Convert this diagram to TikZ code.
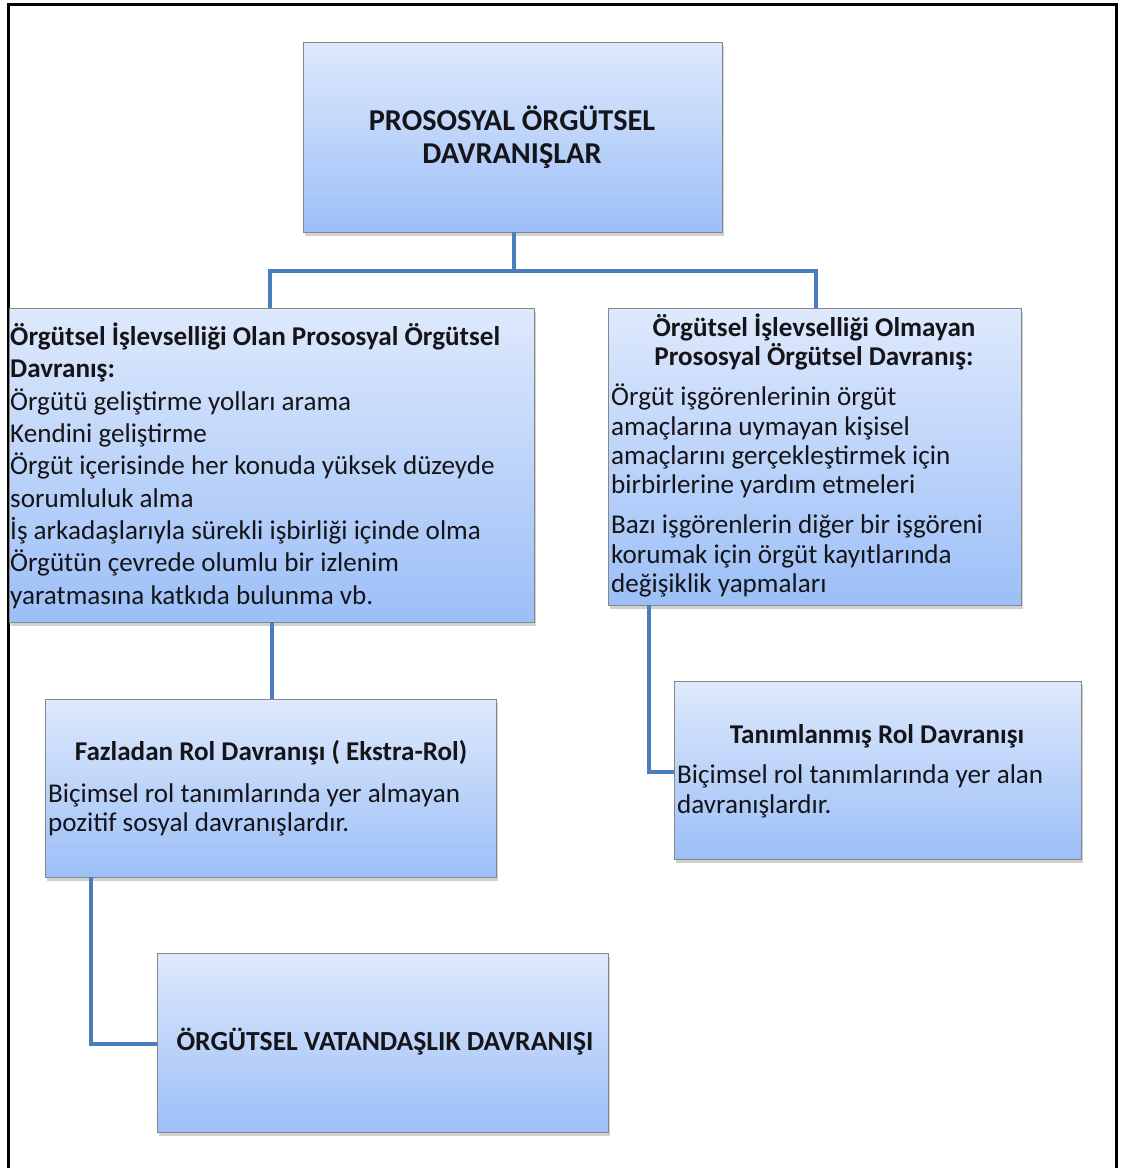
\documentclass[tikz,border=0pt]{standalone}
\usepackage{fontspec}
\setmainfont{Carlito}
\usetikzlibrary{shadows}
\definecolor{boxtop}{RGB}{222,233,252}
\definecolor{boxbot}{RGB}{156,191,247}
\definecolor{connblue}{RGB}{74,126,187}
\definecolor{boxline}{RGB}{135,135,135}
\definecolor{txtcol}{RGB}{20,20,25}
\tikzset{
  box/.style={draw=boxline, line width=0.7pt, top color=boxtop, bottom color=boxbot,
    inner sep=0pt, outer sep=0pt, anchor=north west,
    drop shadow={shadow xshift=1.5pt, shadow yshift=-4pt, fill=gray!45, opacity=0.8}},
  connline/.style={draw=connblue, line width=4.5pt},
  lt/.style={inner sep=0pt, anchor=base west, text=txtcol},
  ct/.style={inner sep=0pt, anchor=base, text=txtcol},
  fbig/.style={font=\fontsize{27.1}{32}\selectfont},
  fbigb/.style={font=\bfseries\fontsize{27.1}{32}\selectfont},
  fmid/.style={font=\fontsize{27.1}{29}\selectfont},
  fmidb/.style={font=\bfseries\fontsize{27.1}{29}\selectfont},
  ftitle/.style={font=\bfseries\fontsize{30.3}{33}\selectfont},
  fovd/.style={font=\bfseries\fontsize{27.6}{30}\selectfont},
}
\begin{document}
\begin{tikzpicture}[x=1pt,y=-1pt]
\useasboundingbox (0,0) rectangle (1128,1168);
% outer frame
\draw[line width=3pt, line cap=rect] (8.5,1168) -- (8.5,4.5) -- (1116.5,4.5) -- (1116.5,1168);

% boxes
\node[box, minimum width=419pt, minimum height=190pt] (top) at (303,42) {};
\node[box, minimum width=525pt, minimum height=314pt] (left) at (9,308) {};
\node[box, minimum width=413pt, minimum height=297pt] (right) at (608,308) {};
\node[box, minimum width=451pt, minimum height=178pt] (extra) at (45,699) {};
\node[box, minimum width=407pt, minimum height=178pt] (defined) at (674,681) {};
\node[box, minimum width=451pt, minimum height=179pt] (ovd) at (157,953) {};

% connectors
\coordinate (jt) at (514,271);
\draw[connline] (top.south -| jt) -- (jt);
\draw[connline] (left.north -| 270,0) |- (jt) -| (right.north -| 816,0);
\draw[connline] (left.south -| 272,0) -- (extra.north -| 272,0);
\draw[connline] (extra.south -| 91,0) |- (ovd.west |- 0,1044);
\draw[connline] (right.south -| 649,0) |- (defined.west |- 0,772);

% top box text
\node[ct, ftitle] (t1) at (512,130) {PROSOSYAL ÖRGÜTSEL};
\node[ct, ftitle] (t2) at (512,163) {DAVRANIŞLAR};

% left box text
\node[lt, fbigb] (lh1) at (10,345) {Örgütsel İşlevselliği Olan Prososyal Örgütsel};
\node[lt, fbigb] (lh2) at (10,377) {Davranış:};
\foreach \y/\t [count=\i] in {
  410/Örgütü geliştirme yolları arama,
  442/Kendini geliştirme,
  474/Örgüt içerisinde her konuda yüksek düzeyde,
  507/sorumluluk alma,
  539/İş arkadaşlarıyla sürekli işbirliği içinde olma,
  571/Örgütün çevrede olumlu bir izlenim,
  604/yaratmasına katkıda bulunma vb.}
  \node[lt, fbig] (lb\i) at (10,\y) {\t};

% right box text
\node[ct, fmidb] (rh1) at (814,336) {Örgütsel İşlevselliği Olmayan};
\node[ct, fmidb] (rh2) at (814,365) {Prososyal Örgütsel Davranış:};
\foreach \y/\t [count=\i] in {
  405/Örgüt işgörenlerinin örgüt,
  435/amaçlarına uymayan kişisel,
  464/amaçlarını gerçekleştirmek için,
  493/birbirlerine yardım etmeleri,
  533/Bazı işgörenlerin diğer bir işgöreni,
  563/korumak için örgüt kayıtlarında,
  592/değişiklik yapmaları}
  \node[lt, fmid] (rb\i) at (611,\y) {\t};

% extra-role box text
\node[ct, fmidb] (eh) at (271,760) {Fazladan Rol Davranışı ( Ekstra-Rol)};
\node[lt, fmid] (eb1) at (48,802) {Biçimsel rol tanımlarında yer almayan};
\node[lt, fmid] (eb2) at (48,831) {pozitif sosyal davranışlardır.};

% defined role box text
\node[ct, fmidb] (dh) at (877,743) {Tanımlanmış Rol Davranışı};
\node[lt, fmid] (db1) at (677,783) {Biçimsel rol tanımlarında yer alan};
\node[lt, fmid] (db2) at (677,813) {davranışlardır.};

% OVD box text
\node[ct, fovd] (ot) at (385,1050) {ÖRGÜTSEL VATANDAŞLIK DAVRANIŞI};
\end{tikzpicture}
\end{document}
